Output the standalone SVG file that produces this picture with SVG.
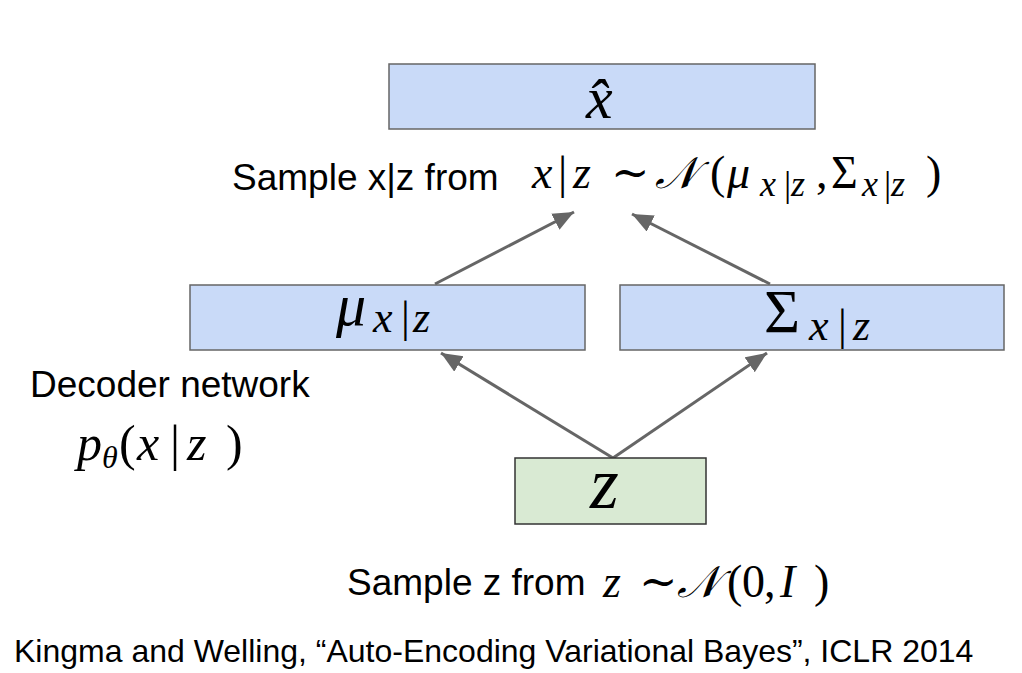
<svg xmlns="http://www.w3.org/2000/svg" width="1022" height="673" viewBox="0 0 1022 673">
<defs>
<marker id="ah" markerUnits="userSpaceOnUse" markerWidth="24" markerHeight="20" refX="21" refY="9" orient="auto">
<path d="M0,0 L21,9 L0,18 z" fill="#666666"/>
</marker>
</defs>
<style>
.blue{fill:#c9daf8;stroke:#666666;stroke-width:1.5}
.green{fill:#d9ead3;stroke:#333333;stroke-width:1.5}
.sans{font-family:"Liberation Sans",Arial,sans-serif;fill:#000}
.mi{font-family:"Liberation Serif","DejaVu Serif",serif;font-style:italic;fill:#000}
.mr{font-family:"Liberation Serif","DejaVu Serif",serif;font-style:normal;fill:#000}
.cal{font-family:"DejaVu Serif","DejaVu Sans","Noto Sans",serif;font-style:italic;fill:#000}
.edge{stroke:#666666;stroke-width:3;fill:none;marker-end:url(#ah)}
</style>
<rect width="1022" height="673" fill="#ffffff"/>

<g id="connectors">
<line class="edge" x1="435" y1="284" x2="574" y2="212"/>
<line class="edge" x1="770" y1="284" x2="632" y2="214"/>
<line class="edge" x1="613" y1="458" x2="441" y2="353"/>
<line class="edge" x1="613" y1="458" x2="767" y2="353"/>
</g>

<g id="node-xhat">
<rect class="blue" x="389" y="64" width="426" height="65"/>
<text class="mi" x="586" y="118" font-size="60">x̂</text>
</g>

<g id="node-mu">
<rect class="blue" x="190" y="285" width="395" height="65"/>
<text class="mi" x="336" y="325" font-size="60">μ</text>
<text class="mi" x="373" y="332" font-size="44">x</text>
<text class="mr" x="401" y="332" font-size="44">|</text>
<text class="mi" x="413" y="332" font-size="44">z</text>
</g>

<g id="node-sigma">
<rect class="blue" x="620" y="285" width="384" height="65"/>
<text class="mr" x="764" y="332" font-size="62">Σ</text>
<text class="mi" x="809" y="340" font-size="44">x</text>
<text class="mr" x="838" y="340" font-size="44">|</text>
<text class="mi" x="853" y="340" font-size="44">z</text>
</g>

<g id="node-z">
<rect class="green" x="515" y="458" width="191" height="66"/>
<text class="mi" x="590" y="508" font-size="74">z</text>
</g>

<g id="label-sample-xz">
<text class="sans" x="232" y="190" font-size="37">Sample x|z from</text>
<text class="mi" x="532" y="188" font-size="46">x</text>
<text class="mr" x="558" y="188" font-size="46">|</text>
<text class="mi" x="573" y="188" font-size="46">z</text>
<text class="mr" x="611" y="188" font-size="46">∼</text>
<text class="cal" x="655" y="188" font-size="44">𝒩</text>
<text class="mr" x="710" y="188" font-size="46">(</text>
<text class="mi" x="727" y="188" font-size="46">μ</text>
<text class="mi" x="760" y="196" font-size="36">x</text>
<text class="mr" x="784" y="196" font-size="36">|</text>
<text class="mi" x="791" y="196" font-size="36">z</text>
<text class="mr" x="816" y="188" font-size="46">,</text>
<text class="mr" x="831" y="188" font-size="46">Σ</text>
<text class="mi" x="862" y="196" font-size="36">x</text>
<text class="mr" x="884" y="196" font-size="36">|</text>
<text class="mi" x="891" y="196" font-size="36">z</text>
<text class="mr" x="926" y="188" font-size="46">)</text>
</g>

<g id="label-decoder">
<text class="sans" x="30" y="397" font-size="37">Decoder network</text>
<text class="mi" x="77" y="460" font-size="50">p</text>
<text class="mi" x="102" y="468" font-size="32">θ</text>
<text class="mr" x="119" y="460" font-size="50">(</text>
<text class="mi" x="137" y="460" font-size="50">x</text>
<text class="mr" x="170" y="460" font-size="50">|</text>
<text class="mi" x="187" y="460" font-size="50">z</text>
<text class="mr" x="226" y="460" font-size="50">)</text>
</g>

<g id="label-sample-z">
<text class="sans" x="347" y="595" font-size="37">Sample z from</text>
<text class="mi" x="603" y="597" font-size="46">z</text>
<text class="mr" x="639" y="597" font-size="46">∼</text>
<text class="cal" x="677" y="597" font-size="44">𝒩</text>
<text class="mr" x="727" y="597" font-size="46">(</text>
<text class="mr" x="742" y="597" font-size="46">0</text>
<text class="mr" x="764" y="597" font-size="46">,</text>
<text class="mi" x="780" y="597" font-size="46">I</text>
<text class="mr" x="814" y="597" font-size="46">)</text>
</g>

<g id="citation">
<text class="sans" x="14" y="662" font-size="32">Kingma and Welling, “Auto-Encoding Variational Bayes”, ICLR 2014</text>
</g>
</svg>
